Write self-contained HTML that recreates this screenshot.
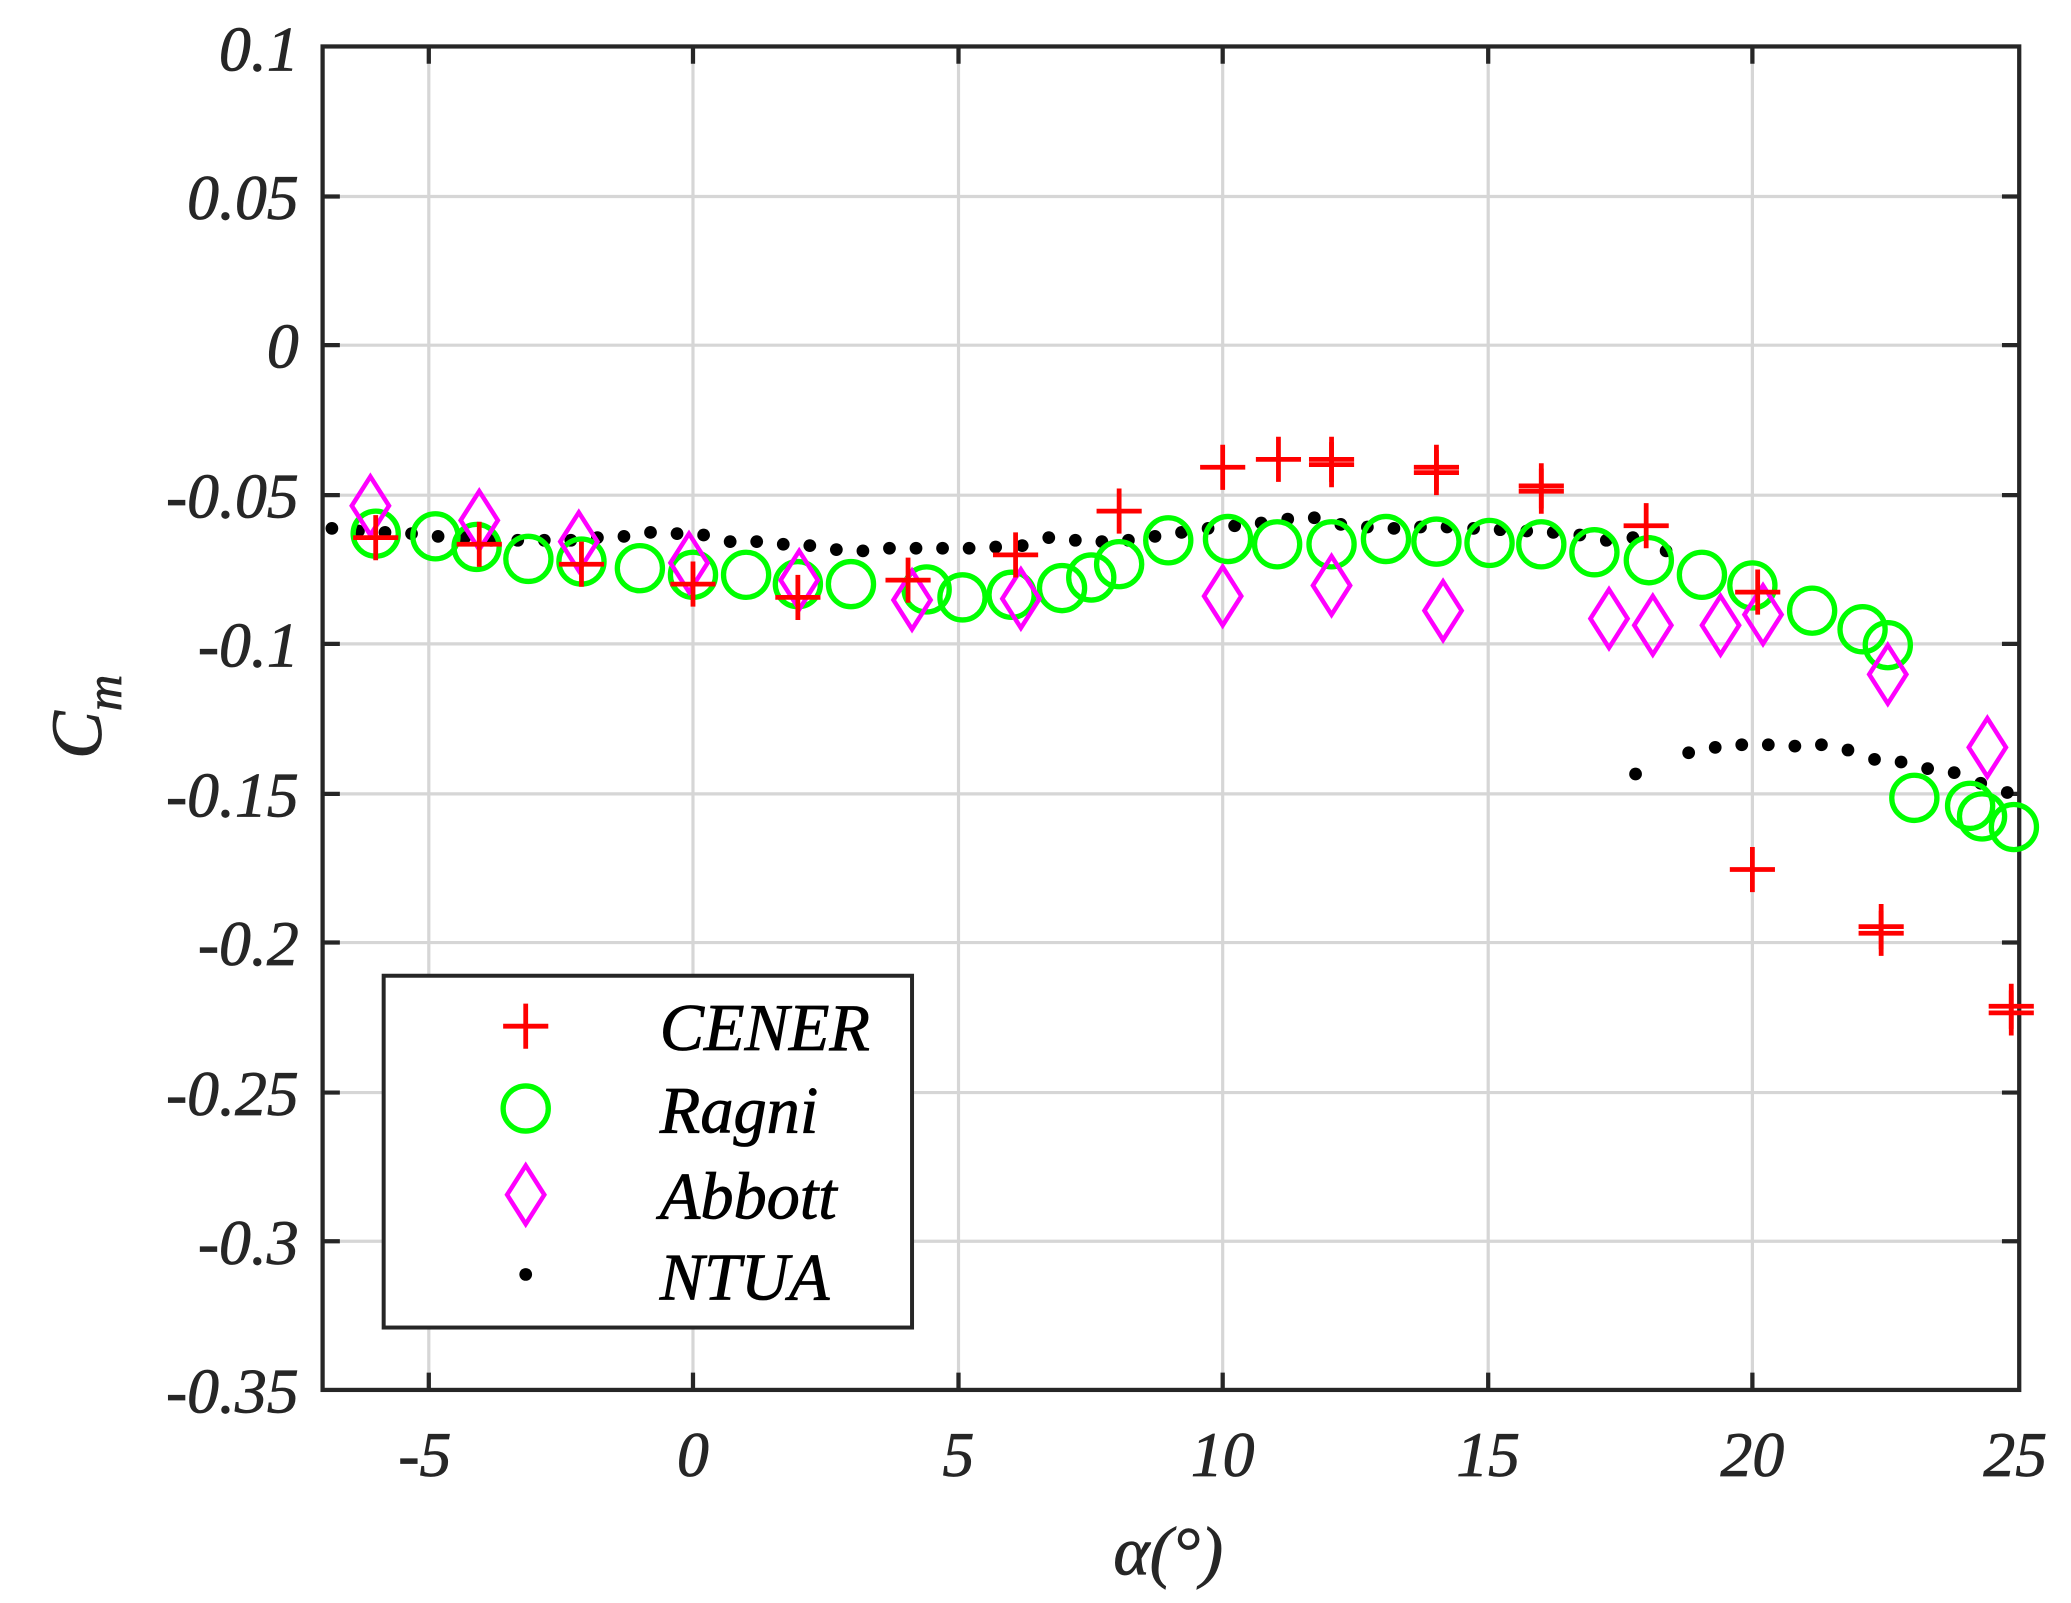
<!DOCTYPE html>
<html><head><style>html,body{margin:0;padding:0;background:#fff;width:2071px;height:1603px;overflow:hidden}svg{display:block}</style></head>
<body>
<svg width="2071" height="1603" viewBox="0 0 1560 1207.5" preserveAspectRatio="none" xmlns="http://www.w3.org/2000/svg">
<defs>
<g id="p"><path d="M-17 0H17M0 -17V17" stroke="#ff0000" stroke-width="3.6" fill="none"/></g>
<g id="o"><ellipse rx="17" ry="17" stroke="#00ff00" stroke-width="4" fill="none"/></g>
<g id="d"><path d="M0 -22L14 0L0 22L-14 0Z" stroke="#ff00ff" stroke-width="3.4" fill="none"/></g>
<g id="k"><circle r="4.8" fill="#000"/></g>
</defs>
<g stroke="#d6d6d6" stroke-width="2.4">
<path d="M323 35V1047M522 35V1047M722 35V1047M921 35V1047M1121 35V1047M1320 35V1047"/>
<path d="M243 148H1521M243 260H1521M243 373H1521M243 485H1521M243 598H1521M243 710H1521M243 823H1521M243 935H1521"/>
</g>
<g stroke="#262626" stroke-width="3.2" fill="none">
<rect x="243" y="35" width="1278" height="1012"/>
<path d="M323 35v13M522 35v13M722 35v13M921 35v13M1121 35v13M1320 35v13M323 1047v-13M522 1047v-13M722 1047v-13M921 1047v-13M1121 1047v-13M1320 1047v-13"/>
<path d="M243 148h13M243 260h13M243 373h13M243 485h13M243 598h13M243 710h13M243 823h13M243 935h13M1521 148h-13M1521 260h-13M1521 373h-13M1521 485h-13M1521 598h-13M1521 710h-13M1521 823h-13M1521 935h-13"/>
</g>
<g font-family="Liberation Serif, serif" font-style="italic" font-size="48" fill="#262626" text-anchor="end" stroke="#262626" stroke-width="0.6">
<text x="225" y="53">0.1</text><text x="225" y="165">0.05</text><text x="225" y="277">0</text>
<text x="225" y="390">-0.05</text><text x="225" y="502">-0.1</text><text x="225" y="615">-0.15</text>
<text x="225" y="727">-0.2</text><text x="225" y="840">-0.25</text><text x="225" y="952">-0.3</text><text x="225" y="1064">-0.35</text>
</g>
<g font-family="Liberation Serif, serif" font-style="italic" font-size="48" fill="#262626" text-anchor="middle" stroke="#262626" stroke-width="0.6">
<text x="320" y="1112">-5</text><text x="522" y="1112">0</text><text x="722" y="1112">5</text><text x="921" y="1112">10</text><text x="1121" y="1112">15</text><text x="1320" y="1112">20</text><text x="1518" y="1112">25</text>
<text x="880" y="1186" font-size="52">α(°)</text>
</g>
<text transform="translate(76,540) rotate(-90)" font-family="Liberation Serif, serif" font-style="italic" font-size="54" fill="#262626" stroke="#262626" stroke-width="0.6" text-anchor="middle">C<tspan font-size="38" dy="15">m</tspan></text>
<g>
<use href="#k" x="250" y="398"/><use href="#k" x="270" y="400"/><use href="#k" x="290" y="401"/><use href="#k" x="310" y="402"/><use href="#k" x="330" y="404"/><use href="#k" x="350" y="405"/><use href="#k" x="370" y="407"/><use href="#k" x="390" y="407"/><use href="#k" x="410" y="407"/><use href="#k" x="430" y="407"/><use href="#k" x="450" y="405"/><use href="#k" x="470" y="404"/><use href="#k" x="490" y="401"/><use href="#k" x="510" y="402"/><use href="#k" x="530" y="403"/><use href="#k" x="550" y="408"/><use href="#k" x="570" y="408"/><use href="#k" x="590" y="410"/><use href="#k" x="610" y="411"/><use href="#k" x="630" y="414"/><use href="#k" x="650" y="415"/><use href="#k" x="670" y="413"/><use href="#k" x="690" y="413"/><use href="#k" x="710" y="413"/><use href="#k" x="730" y="413"/><use href="#k" x="750" y="412"/><use href="#k" x="770" y="411"/><use href="#k" x="790" y="405"/><use href="#k" x="810" y="407"/><use href="#k" x="830" y="408"/><use href="#k" x="850" y="407"/><use href="#k" x="870" y="404"/><use href="#k" x="890" y="401"/><use href="#k" x="910" y="398"/><use href="#k" x="930" y="396"/><use href="#k" x="950" y="394"/><use href="#k" x="970" y="391"/><use href="#k" x="990" y="390"/><use href="#k" x="1010" y="395"/><use href="#k" x="1030" y="397"/><use href="#k" x="1050" y="398"/><use href="#k" x="1070" y="397"/><use href="#k" x="1090" y="397"/><use href="#k" x="1110" y="398"/><use href="#k" x="1130" y="399"/><use href="#k" x="1150" y="400"/><use href="#k" x="1170" y="401"/><use href="#k" x="1190" y="403"/><use href="#k" x="1210" y="407"/><use href="#k" x="1230" y="405"/><use href="#k" x="1255" y="415"/>
<use href="#k" x="1232" y="583"/><use href="#k" x="1272" y="567"/><use href="#k" x="1292" y="563"/><use href="#k" x="1312" y="561"/><use href="#k" x="1332" y="561"/><use href="#k" x="1352" y="562"/><use href="#k" x="1372" y="561"/><use href="#k" x="1392" y="565"/><use href="#k" x="1412" y="572"/><use href="#k" x="1432" y="574"/><use href="#k" x="1452" y="579"/><use href="#k" x="1472" y="582"/><use href="#k" x="1492" y="590"/><use href="#k" x="1512" y="597"/>
</g>
<g>
<use href="#o" x="283" y="402"/><use href="#o" x="328" y="404"/><use href="#o" x="359" y="412"/><use href="#o" x="398" y="421"/><use href="#o" x="438" y="423"/><use href="#o" x="482" y="428"/><use href="#o" x="522" y="433"/><use href="#o" x="562" y="433"/><use href="#o" x="601" y="440"/><use href="#o" x="641" y="440"/><use href="#o" x="698" y="444"/><use href="#o" x="725" y="450"/><use href="#o" x="762" y="448"/><use href="#o" x="800" y="443"/><use href="#o" x="822" y="435"/><use href="#o" x="843" y="425"/><use href="#o" x="880" y="407"/><use href="#o" x="925" y="406"/><use href="#o" x="962" y="410"/><use href="#o" x="1003" y="410"/><use href="#o" x="1044" y="406"/><use href="#o" x="1082" y="408"/><use href="#o" x="1122" y="409"/><use href="#o" x="1161" y="410"/><use href="#o" x="1201" y="416"/><use href="#o" x="1242" y="422"/><use href="#o" x="1282" y="433"/><use href="#o" x="1320" y="441"/><use href="#o" x="1365" y="460"/><use href="#o" x="1403" y="474"/><use href="#o" x="1422" y="486"/><use href="#o" x="1442" y="601"/><use href="#o" x="1484" y="607"/><use href="#o" x="1493" y="615"/><use href="#o" x="1517" y="623"/>
</g>
<g>
<use href="#d" x="279" y="381"/><use href="#d" x="361" y="392"/><use href="#d" x="436" y="408"/><use href="#d" x="519" y="424"/><use href="#d" x="602" y="437"/><use href="#d" x="687" y="452"/><use href="#d" x="769" y="451"/><use href="#d" x="921" y="449"/><use href="#d" x="1003" y="441"/><use href="#d" x="1087" y="460"/><use href="#d" x="1212" y="466"/><use href="#d" x="1245" y="471"/><use href="#d" x="1296" y="471"/><use href="#d" x="1328" y="463"/><use href="#d" x="1422" y="508"/><use href="#d" x="1497" y="563"/>
</g>
<g>
<use href="#p" x="283" y="405"/><use href="#p" x="361" y="410"/><use href="#p" x="438" y="425"/><use href="#p" x="522" y="440"/><use href="#p" x="601" y="450"/><use href="#p" x="684" y="437"/><use href="#p" x="765" y="418"/><use href="#p" x="843" y="385"/><use href="#p" x="921" y="352"/><use href="#p" x="963" y="346"/><use href="#p" x="1003" y="346"/><use href="#p" x="1003" y="350"/><use href="#p" x="1082" y="352"/><use href="#p" x="1082" y="356"/><use href="#p" x="1161" y="366"/><use href="#p" x="1161" y="370"/><use href="#p" x="1240" y="396"/><use href="#p" x="1324" y="446"/><use href="#p" x="1320" y="655"/><use href="#p" x="1417" y="698"/><use href="#p" x="1417" y="703"/><use href="#p" x="1515" y="758"/><use href="#p" x="1515" y="763"/>
</g>
<rect x="289" y="735" width="398" height="265" fill="#fff" stroke="#262626" stroke-width="3"/>
<use href="#p" x="396" y="773"/><use href="#o" x="396" y="835"/><use href="#d" x="396" y="900"/><use href="#k" x="396" y="960"/>
<g font-family="Liberation Serif, serif" font-style="italic" font-size="50" fill="#000" stroke="#000" stroke-width="0.6">
<text x="497" y="791">CENER</text><text x="497" y="853">Ragni</text><text x="497" y="918">Abbott</text><text x="497" y="979">NTUA</text>
</g>
</svg>
</body></html>
